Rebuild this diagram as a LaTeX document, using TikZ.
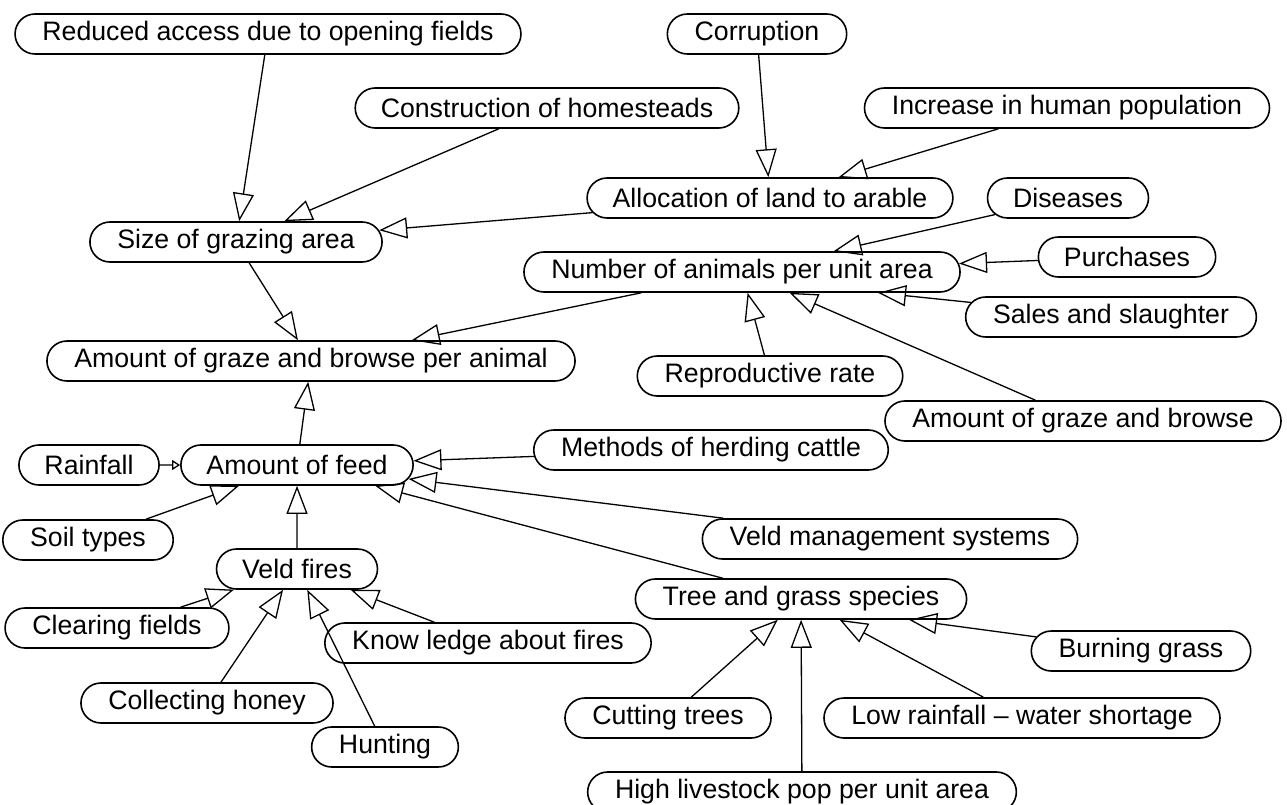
\documentclass[tikz,border=0pt]{standalone}
\usepackage{fontspec}
\setmainfont{Liberation Sans}
\usetikzlibrary{shapes.misc,arrows.meta}

\begin{document}
\begin{tikzpicture}[x=1pt,y=-1pt,
  factor/.style={draw,rounded rectangle,line width=1.6pt,minimum height=40pt,inner xsep=23pt,inner ysep=0pt,font=\fontsize{26.7}{30}\selectfont},
  cause/.style={line width=1.3pt,-{Triangle[open,length=28pt,width=21pt]}},
  smallcause/.style={line width=1.3pt,-{Triangle[open,length=8pt,width=10pt]}}]
\useasboundingbox (0,0) rectangle (1287,805);

\node[factor] (reduced) at (268,34) {Reduced access due to opening fields};
\node[factor] (corruption) at (757,34) {Corruption};
\node[factor] (homesteads) at (547,108) {Construction of homesteads};
\node[factor] (population) at (1067,108) {Increase in human population};
\node[factor] (arable) at (770,198) {Allocation of land to arable};
\node[factor] (diseases) at (1068,198) {Diseases};
\node[factor] (grazing) at (236,242) {Size of grazing area};
\node[factor] (animals) at (742,272) {Number of animals per unit area};
\node[factor] (purchases) at (1127,257) {Purchases};
\node[factor] (sales) at (1111,317) {Sales and slaughter};
\node[factor] (peranimal) at (311,361) {Amount of graze and browse per animal};
\node[factor] (reproductive) at (770,376) {Reproductive rate};
\node[factor] (browse) at (1083,421) {Amount of graze and browse};
\node[factor] (rainfall) at (89,465) {Rainfall};
\node[factor] (feed) at (297,465) {Amount of feed};
\node[factor] (herding) at (711,450) {Methods of herding cattle};
\node[factor] (soil) at (88,540) {Soil types};
\node[factor] (management) at (890,539) {Veld management systems};
\node[factor] (fires) at (297,569) {Veld fires};
\node[factor] (species) at (801,599) {Tree and grass species};
\node[factor] (clearing) at (117,628) {Clearing fields};
\node[factor] (knowledge) at (488,643) {Know ledge about fires};
\node[factor] (burning) at (1141,651) {Burning grass};
\node[factor] (honey) at (207,703) {Collecting honey};
\node[factor] (hunting) at (385,747) {Hunting};
\node[factor] (cutting) at (668,718) {Cutting trees};
\node[factor] (lowrain) at (1022,718) {Low rainfall – water shortage};
\node[factor] (livestock) at (802,792) {High livestock pop per unit area};

\draw[cause] (reduced) -- (grazing);
\draw[cause] (homesteads) -- (grazing);
\draw[cause] (arable) -- (grazing);
\draw[cause] (corruption) -- (arable);
\draw[cause] (population) -- (arable);
\draw[cause] (diseases) -- (animals);
\draw[cause] (purchases) -- (animals);
\draw[cause] (sales) -- ([xshift=136pt]animals.south);
\draw[cause] (reproductive) -- (animals);
\draw[cause] (browse) -- (animals);
\draw[cause] (grazing) -- (peranimal);
\draw[cause] (animals) -- (peranimal);
\draw[cause] (feed) -- (peranimal);
\draw[smallcause] (rainfall) -- (feed);
\draw[cause] (soil) -- (feed);
\draw[cause] (fires) -- (feed);
\draw[cause] (herding) -- (feed);
\draw[cause] (management) -- (feed);
\draw[cause] (species) -- (feed);
\draw[cause] (clearing) -- (fires);
\draw[cause] (honey) -- (fires);
\draw[cause] (hunting) -- (fires);
\draw[cause] (knowledge) -- (fires);
\draw[cause] (cutting) -- (species);
\draw[cause] (livestock) -- (species);
\draw[cause] (lowrain) -- (species);
\draw[cause] (burning) -- ([xshift=108pt]species.south);
\end{tikzpicture}
\end{document}
